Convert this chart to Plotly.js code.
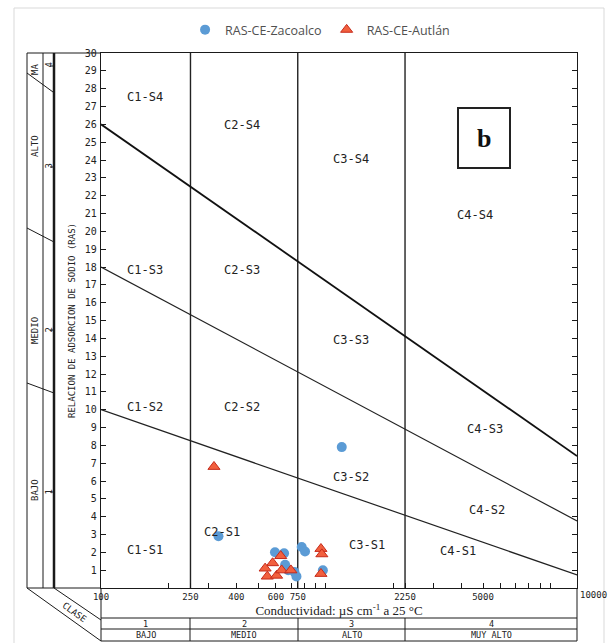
<!DOCTYPE html>
<html><head><meta charset="utf-8">
<script src="https://cdn.plot.ly/plotly-3.0.1.min.js"></script>
<style>html,body{margin:0;padding:0;background:#fff;}#chart{width:612px;height:643px;}</style>
</head><body><div id="chart"></div>
<script>
// ---------- data ----------
const seriesNames = ['RAS-CE-Zacoalco', 'RAS-CE-Autlán'];
const zacoalcoCE  = [333, 1177, 594, 652, 781, 808, 659, 680, 725, 740, 970];
const zacoalcoRAS = [2.9, 7.9, 2.0, 1.95, 2.3, 2.05, 1.3, 1.0, 0.9, 0.65, 1.0];
const autlanCE  = [318, 630, 580, 537, 549, 604, 636, 699, 951, 960, 951];
const autlanRAS = [6.8, 1.8, 1.4, 1.1, 0.65, 0.7, 1.0, 1.0, 2.2, 1.9, 0.8];

const salinityBounds = [250, 750, 2250];
const boundaryCE = [100, 13100];
const s12RAS = [10, 0.73];
const s23RAS = [18, 3.76];
const s34RAS = [26, 7.4];

const xTickVals = [100, 250, 400, 600, 750, 2250, 5000];
const xTickText = ['100', '250', '400', '600', '750', '2250', '5000'];
const xMinorVals = [200, 300, 500, 700, 800, 900, 1000, 2000, 3000, 4000, 6000, 7000, 8000, 9000, 10000];
const xEdgeLabel = '10000';
const yTickVals = [1,2,3,4,5,6,7,8,9,10,11,12,13,14,15,16,17,18,19,20,21,22,23,24,25,26,27,28,29,30];

const zoneNames = ['C1-S4','C2-S4','C3-S4','C4-S4','C1-S3','C2-S3','C3-S3','C4-S3',
                   'C1-S2','C2-S2','C3-S2','C4-S2','C1-S1','C2-S1','C3-S1','C4-S1'];
const salinityNums = ['1', '2', '3', '4'];
const salinityNames = ['BAJO', 'MEDIO', 'ALTO', 'MUY ALTO'];
const sodiumNums = ['1', '2', '3', '4'];
const sodiumNames = ['BAJO', 'MEDIO', 'ALTO', 'MA'];

// ---------- layout helpers (pixel -> paper) ----------
const L = 101, R = 577, T = 53, B = 588;
const px = x => (x - L) / (R - L);
const py = y => (B - y) / (B - T);
const INK = '#1a1a1a';
function seg(x0, y0, x1, y1, w, c) {
  return {type: 'line', xref: 'paper', yref: 'paper', x0: px(x0), y0: py(y0), x1: px(x1), y1: py(y1),
          line: {color: c || INK, width: w || 1}};
}
function box(x0, y0, x1, y1, w, c) {
  return {type: 'rect', xref: 'paper', yref: 'paper', x0: px(x0), y0: py(y0), x1: px(x1), y1: py(y1),
          line: {color: c || INK, width: w || 1}, fillcolor: 'rgba(0,0,0,0)'};
}
const mono = 'DejaVu Sans Mono, monospace';
function txt(t, x, y, size, angle, extra) {
  return Object.assign({text: t, xref: 'paper', yref: 'paper', x: px(x), y: py(y), showarrow: false,
          xanchor: 'center', yanchor: 'middle', textangle: angle || 0,
          font: {family: mono, size: size || 10, color: '#222'}}, extra || {});
}

// ---------- traces ----------
const traces = [];
salinityBounds.forEach(v => traces.push({x: [v, v], y: [0, 30], mode: 'lines', showlegend: false, hoverinfo: 'skip',
  line: {color: '#222', width: 1.4}}));
traces.push({x: boundaryCE, y: s12RAS, mode: 'lines', showlegend: false, hoverinfo: 'skip', line: {color: '#222', width: 1.2}});
traces.push({x: boundaryCE, y: s23RAS, mode: 'lines', showlegend: false, hoverinfo: 'skip', line: {color: '#222', width: 1.2}});
traces.push({x: boundaryCE, y: s34RAS, mode: 'lines', showlegend: false, hoverinfo: 'skip', line: {color: '#111', width: 1.8}});
traces.push({x: zacoalcoCE, y: zacoalcoRAS, name: seriesNames[0], mode: 'markers', type: 'scatter',
  marker: {symbol: 'circle', size: 10, color: '#5B9BD5', line: {width: 0}}});
traces.push({x: autlanCE, y: autlanRAS, name: seriesNames[1], mode: 'markers', type: 'scatter',
  marker: {symbol: 'triangle-up', size: 10.5, color: '#F2603E', line: {color: '#C62A1A', width: 1}}});

// ---------- shapes ----------
const shapes = [
  box(14, 8, 604, 660, 1, '#d9d9d9'),
  // left (sodium hazard) panel
  seg(27, T, L, T), seg(27, B, L, B),
  seg(27, T, 27, B), seg(43, T, 43, B), seg(54, T, 54, B, 2.5),
  seg(27, 73, 53, 92), seg(27, 228, 54, 242), seg(27, 383, 54, 393),
  seg(50, 66, 54, 66), seg(50, 167, 54, 167), seg(50, 330, 54, 330), seg(50, 492, 54, 492),
  // bottom (salinity hazard) panel
  seg(27, B, L, 641), seg(54, B, L, 620),
  seg(L, B, L, 641), seg(R, B, R, 641),
  seg(L, 618, R, 618), seg(L, 629, R, 629), seg(L, 641, R, 641),
  seg(190, 618, 190, 641), seg(298, 618, 298, 641), seg(405, 618, 405, 641),
  // "b" box
  box(458, 108, 510, 168, 2, '#222')
];

// ---------- annotations ----------
const zonePos = [[145,97],[242,125],[351,159],[475,215],[145,270],[242,270],[351,340],[485,429],
                 [145,407],[242,407],[351,477],[487,510],[145,550],[222,532],[367,545],[458,551]];
const annotations = [];
zoneNames.forEach((n, i) => annotations.push(txt(n, zonePos[i][0], zonePos[i][1], 12)));
const sodNumY = [492, 330, 166, 65];
const sodNameY = [490, 331, 146, 70];
sodiumNums.forEach((n, i) => annotations.push(txt(n, 48.5, sodNumY[i], 9, -90)));
sodiumNames.forEach((n, i) => annotations.push(txt(n, 35, sodNameY[i], 9, -90)));
const salX = [145.5, 244, 351.5, 491];
salinityNums.forEach((n, i) => annotations.push(txt(n, salX[i], 623.5, 8.5)));
salinityNames.forEach((n, i) => annotations.push(txt(n, salX[i], 635, 8.5)));
annotations.push(txt('CLASE', 74, 612, 9, 36));
annotations.push(txt(xEdgeLabel, R + 1, 595, 9, 0, {xanchor: 'left'}));
annotations.push(txt('<b>b</b>', 484, 138, 26, 0, {font: {family: 'Liberation Serif, serif', size: 26, color: '#111'}}));

const layout = {
  width: 612, height: 643,
  margin: {l: L, r: 612 - R, t: T, b: 643 - B},
  paper_bgcolor: '#fff', plot_bgcolor: '#fff',
  xaxis: {type: 'log', range: [2, 4.117], tickmode: 'array', tickvals: xTickVals, ticktext: xTickText,
    ticks: 'inside', ticklen: 5, tickcolor: INK, showgrid: false, zeroline: false,
    showline: true, linecolor: INK, linewidth: 1.2, mirror: true, ticklabelstandoff: 0,
    minor: {tickmode: 'array', tickvals: xMinorVals, ticks: 'inside', ticklen: 5, tickcolor: INK, showgrid: false},
    tickfont: {family: mono, size: 9, color: '#222'},
    title: {text: 'Conductividad: µS cm<sup>-1</sup> a 25 °C', standoff: 1,
      font: {family: 'Liberation Serif, serif', size: 13, color: '#222'}}},
  yaxis: {range: [0, 30], tickmode: 'array', tickvals: yTickVals,
    ticks: 'inside', ticklen: 5, tickcolor: INK, showgrid: false, zeroline: false,
    showline: true, linecolor: INK, linewidth: 1.2, mirror: 'ticks', ticklabelstandoff: 1,
    tickfont: {family: mono, size: 10, color: '#222'},
    title: {text: 'RELACION DE ADSORCION DE SODIO (RAS)', standoff: 7,
      font: {family: mono, size: 9, color: '#222'}}},
  legend: {orientation: 'h', xref: 'container', yref: 'container', x: 0.523, xanchor: 'center',
    y: 1 - 30 / 643, yanchor: 'middle', font: {family: 'Open Sans, sans-serif', size: 12.5, color: '#505050'},
    itemwidth: 30, bgcolor: 'rgba(0,0,0,0)'},
  shapes: shapes, annotations: annotations
};
Plotly.newPlot('chart', traces, layout, {displayModeBar: false, staticPlot: true});
</script></body></html>
